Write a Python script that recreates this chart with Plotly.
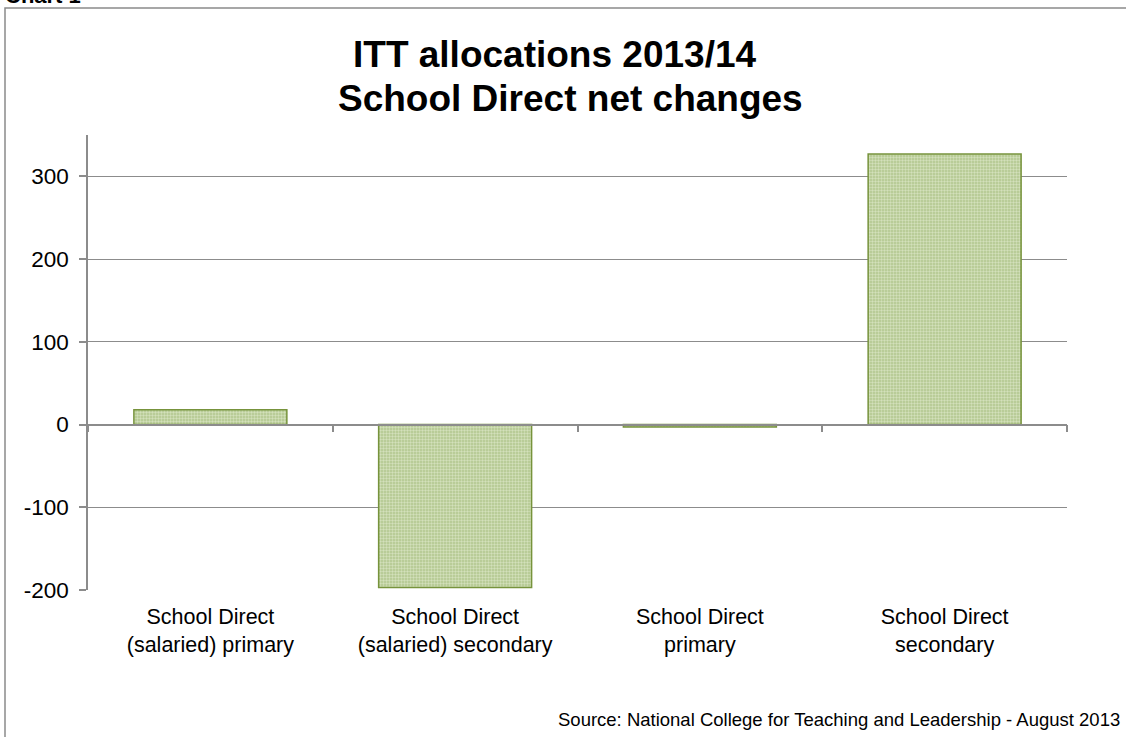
import plotly.graph_objects as go

categories = ["School Direct<br>(salaried) primary", "School Direct<br>(salaried) secondary",
              "School Direct<br>primary", "School Direct<br>secondary"]
values = [18, -197, -3, 327]
y_ticks = [-200, -100, 0, 100, 200, 300]
y_tick_text = ["-200", "-100", "0", "100", "200", "300"]
title_lines = ["ITT allocations 2013/14", "School Direct net changes"]
source_text = "Source: National College for Teaching and Leadership - August 2013"

FONT = "Liberation Sans, Arial, sans-serif"
GRID = "#8c8c8c"
W, H = 1126, 737
L, R, T, B = 88, 59, 135, 147
PH = H - T - B
PW = W - L - R

def px_x(x):
    return (x - L) / PW

def px_y(y):
    return (H - B - y) / PH

ymin, ymax = -200, 350

fig = go.Figure()
fig.add_trace(go.Bar(
    x=categories, y=values,
    marker=dict(color="#c3d69b",
                line=dict(color="#77933c", width=1.5),
                pattern=dict(shape=".", size=3, solidity=0.5,
                             fgcolor="#d3e0bb", bgcolor="#b1c68c", fillmode="replace")),
    showlegend=False, hoverinfo="x+y",
))
fig.add_trace(go.Scatter(x=categories, y=[0] * len(categories), xaxis="x2",
                         mode="lines", line=dict(width=0), hoverinfo="skip",
                         showlegend=False))

fig.update_layout(
    width=W, height=H,
    margin=dict(l=L, r=R, t=T, b=B),
    paper_bgcolor="white", plot_bgcolor="white",
    bargap=0.375,
    font=dict(family=FONT, color="black", size=21),
    xaxis=dict(type="category", categoryarray=categories, range=[-0.5, 3.5],
               showgrid=False, showline=False, zeroline=False,
               ticks="outside", ticklen=7, tickcolor="rgba(0,0,0,0)",
               tickfont=dict(size=21.5, family=FONT, color="black")),
    xaxis2=dict(type="category", categoryarray=categories, range=[-0.5, 3.5],
                overlaying="x", anchor="free",
                position=(0 - ymin) / (ymax - ymin),
                showgrid=False, zeroline=False, showline=True, linecolor=GRID, linewidth=1.5,
                ticks="outside", tickson="boundaries", ticklen=7, tickcolor=GRID, tickwidth=1.5,
                showticklabels=False),
    yaxis=dict(range=[ymin, ymax], tickvals=y_ticks, ticktext=y_tick_text,
               showgrid=True, gridcolor=GRID, gridwidth=1,
               zeroline=False, showline=True, linecolor=GRID, linewidth=1.5,
               ticks="outside", ticklen=7, tickcolor=GRID, tickwidth=1.5,
               ticklabelstandoff=6,
               tickfont=dict(size=22.5, family=FONT, color="black")),
)

annotations = [
    dict(text="<b>%s</b>" % title_lines[0], x=px_x(554), y=px_y(55), xref="paper", yref="paper",
         xanchor="center", yanchor="middle", showarrow=False, font=dict(size=37, family=FONT)),
    dict(text="<b>%s</b>" % title_lines[1], x=px_x(336), y=px_y(98), xref="paper", yref="paper",
         xanchor="left", yanchor="middle", showarrow=False, font=dict(size=37, family=FONT)),
    dict(text=source_text, x=px_x(1122), y=px_y(720), xref="paper", yref="paper",
         xanchor="right", yanchor="middle", showarrow=False, font=dict(size=18.5, family=FONT)),
    dict(text="<b>Chart 1</b>", x=px_x(3), y=px_y(10), xref="paper", yref="paper",
         xanchor="left", yanchor="bottom", showarrow=False, font=dict(size=22, family=FONT)),
]
fig.update_layout(annotations=annotations)

fig.add_shape(type="rect", xref="paper", yref="paper",
              x0=px_x(5), x1=px_x(1140), y0=px_y(760), y1=px_y(8),
              line=dict(color="#8a8a8a", width=1.5), fillcolor="rgba(0,0,0,0)", layer="below")

fig.write_html("out.html")
